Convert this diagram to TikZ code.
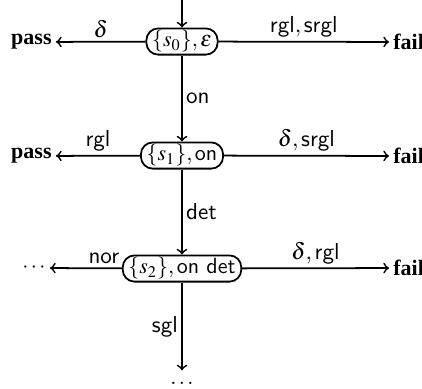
\documentclass[tikz,border=0pt]{standalone}
\usepackage{mathptmx}
\usepackage{fontspec}
\setmainfont{Liberation Serif}
\begin{document}
\begin{tikzpicture}[x=0.4545pt,y=-0.4545pt,
  state/.style={draw,line width=0.8pt,rounded corners=5.4pt,minimum height=10.8pt,inner xsep=2.6pt,inner ysep=1pt},
  term/.style={inner sep=1.8pt,font=\bfseries},
  edge/.style={->,line width=0.8pt},
  lab/.style={font=\fontsize{10.5}{12}\selectfont\sffamily,inner sep=1.5pt}]
\useasboundingbox (0,0) rectangle (422,388);
\coordinate (top) at (182,0);
\node[state] (s0) at (182,41.5) {$\{s_0\},\varepsilon$};
\node[state] (s1) at (182,155.5) {$\{s_1\},\textsf{on}$};
\node[state] (s2) at (182,268.5) {$\{s_2\},\textsf{on det}$};
\node[term,anchor=east] (p0) at (56,42) {pass};
\node[term,anchor=west] (f0) at (389,42) {fail};
\node[term,anchor=east] (p1) at (56,156) {pass};
\node[term,anchor=west] (f1) at (389,156) {fail};
\node[inner sep=1.8pt,anchor=east] (d2) at (50,268) {$\cdots$};
\node[term,anchor=west] (f2) at (389,268) {fail};
\node[inner sep=0pt,text height=6pt,anchor=base] (d3) at (182,384) {$\dots$};
\draw[edge] (top) -- (s0);
\draw[edge] (s0) -- node[lab,above] {$\delta$} (p0);
\draw[edge] (s0) -- node[lab,above] {$\textsf{rgl},\textsf{srgl}$} (f0);
\draw[edge] (s0) -- node[lab,right] {on} (s1);
\draw[edge] (s1) -- node[lab,above] {rgl} (p1);
\draw[edge] (s1) -- node[lab,above] {$\delta,\textsf{srgl}$} (f1);
\draw[edge] (s1) -- node[lab,right] {det} (s2);
\draw[edge] (s2) -- node[lab,above,pos=0.25] {nor} (d2);
\draw[edge] (s2) -- node[lab,above] {$\delta,\textsf{rgl}$} (f2);
\draw[edge] (s2) -- node[lab,left] {sgl} (d3);
\end{tikzpicture}
\end{document}
